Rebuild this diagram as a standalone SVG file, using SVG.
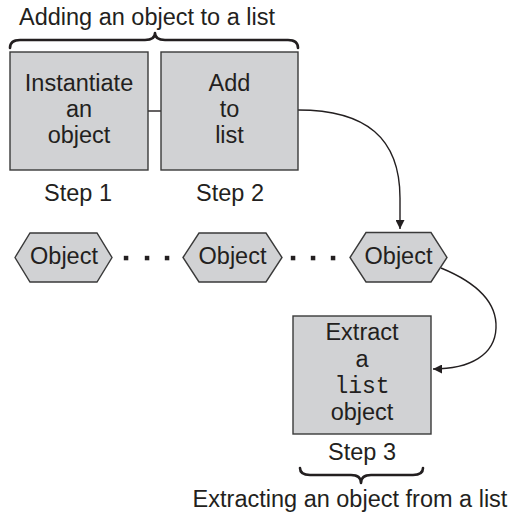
<svg xmlns="http://www.w3.org/2000/svg" width="514" height="518" viewBox="0 0 514 518">
<defs>
<style>
.t{font-family:"Liberation Sans",Arial,sans-serif;font-size:23.5px;fill:#231f20;text-anchor:middle}
.m{font-family:"Liberation Mono","Courier New",monospace;font-size:23px;fill:#231f20;text-anchor:middle}
.box{fill:#d1d2d4;stroke:#3a3a3a;stroke-width:1.4}
.ln{fill:none;stroke:#231f20;stroke-width:1.4}
.br{fill:none;stroke:#231f20;stroke-width:2.6;stroke-linejoin:round;stroke-linecap:round}
.dot{fill:#231f20}
</style>
<marker id="ah" viewBox="0 0 10 10" refX="10" refY="5" markerWidth="11" markerHeight="9" markerUnits="userSpaceOnUse" orient="auto">
<path d="M0,0 L10,5 L0,10 z" fill="#231f20"/>
</marker>
</defs>
<rect width="514" height="518" fill="#ffffff"/>

<g id="title-top">
<text class="t" x="147" y="25">Adding an object to a list</text>
<path class="br" d="M10,48 Q10,40 20,40 L145,40 Q155,40 155,33 Q155,40 165,40 L288,40 Q298,40 298,48"/>
</g>

<g id="connectors">
<line class="ln" x1="148" y1="111" x2="161" y2="111"/>
<path class="ln" d="M298,110 C366,110 400,138 400,198 L400,229" marker-end="url(#ah)"/>
<path class="ln" d="M441,268 C480,284 497,305 496,328 C495,355 470,369 433,369" marker-end="url(#ah)"/>
<g class="dot">
<rect x="123.8" y="255.8" width="4.5" height="4.5"/>
<rect x="144.8" y="255.8" width="4.5" height="4.5"/>
<rect x="164.8" y="255.8" width="4.5" height="4.5"/>
<rect x="290.8" y="255.8" width="4.5" height="4.5"/>
<rect x="310.8" y="255.8" width="4.5" height="4.5"/>
<rect x="330.8" y="255.8" width="4.5" height="4.5"/>
</g>
</g>

<g id="step1">
<rect class="box" x="10" y="52" width="138" height="118"/>
<text class="t" x="79" y="91">Instantiate</text>
<text class="t" x="79" y="117">an</text>
<text class="t" x="79" y="143">object</text>
<text class="t" x="78" y="201">Step 1</text>
</g>

<g id="step2">
<rect class="box" x="161" y="52" width="137" height="118"/>
<text class="t" x="229.5" y="91">Add</text>
<text class="t" x="229.5" y="117">to</text>
<text class="t" x="229.5" y="143">list</text>
<text class="t" x="230" y="201">Step 2</text>
</g>

<g id="object1">
<polygon class="box" points="15,257.5 30,233 97,233 112,257.5 97,282 30,282"/>
<text class="t" x="64" y="264">Object</text>
</g>

<g id="object2">
<polygon class="box" points="183,257.5 199,233 266,233 282,257.5 266,282 199,282"/>
<text class="t" x="232.5" y="264">Object</text>
</g>

<g id="object3">
<polygon class="box" points="350,257.5 366,232.5 431,232.5 447,257.5 431,282 366,282"/>
<text class="t" x="398.5" y="264">Object</text>
</g>

<g id="step3">
<rect class="box" x="293" y="316" width="138" height="118"/>
<text class="t" x="362" y="340">Extract</text>
<text class="t" x="362" y="367">a</text>
<text class="m" x="362" y="393">list</text>
<text class="t" x="362" y="420">object</text>
<text class="t" x="362" y="460">Step 3</text>
</g>

<g id="title-bottom">
<path class="br" d="M300,468 Q300,475 310,475 L351,475 Q361,475 361,483 Q361,475 371,475 L413,475 Q423,475 423,468"/>
<text class="t" x="350" y="507">Extracting an object from a list</text>
</g>
</svg>
